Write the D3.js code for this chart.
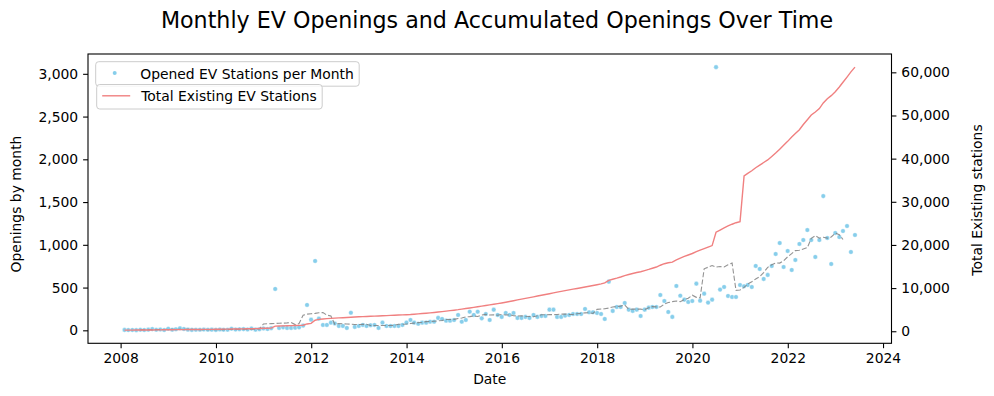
<!DOCTYPE html>
<html>
<head>
<meta charset="utf-8">
<script src="https://cdn.jsdelivr.net/npm/d3@7"></script>
<style>
  body { margin: 0; background: #fff; }
  svg { display: block; font-family: "DejaVu Sans", sans-serif; }
</style>
</head>
<body>
<svg></svg>
<script>
// monthly data, first month is Jan 2008 (dates are month ends)
let firstMonth = '2008-01'

// stations opened per month, one row per year
let openings = [
    5, 3, 4, 2, 6, 4, 8, 14, 6, 9, 4, 18,                       // 2008
    7, 12, 24, 16, 8, 5, 6, 7, 9, 6, 8, 5,                      // 2009
    10, 7, 6, 18, 9, 12, 14, 10, 20, 8, 12, 22,                 // 2010
    15, 25, 484, 28, 35, 28, 28, 30, 35, 55, 297, 125,          // 2011
    811, 137, 63, 63, 90, 80, 51, 51, 28, 205, 40, 51,          // 2012
    63, 51, 60, 63, 28, 90, 51, 51, 51, 51, 63, 90,             // 2013
    121, 90, 76, 90, 90, 101, 101, 145, 133, 113, 113, 121,     // 2014
    180, 101, 121, 218, 180, 218, 140, 191, 121, 242, 180, 157, // 2015
    203, 180, 203, 145, 145, 157, 145, 180, 157, 168, 168, 242, // 2016
    242, 157, 157, 172, 180, 191, 191, 191, 250, 211, 211, 203, // 2017
    191, 133, 569, 227, 273, 273, 320, 242, 227, 242, 168, 242, // 2018
    265, 273, 273, 413, 343, 215, 157, 519, 405, 359, 332, 343, // 2019
    546, 347, 429, 324, 359, 3078, 476, 507, 402, 390, 390, 530,// 2020
    515, 530, 507, 753, 718, 601, 648, 753, 893, 1021, 741, 928,// 2021
    706, 823, 1010, 1056, 1173, 1056, 858, 1056, 1570, 1080, 776, 1138, // 2022
    1091, 1161, 1220, 916, 1115                                 // 2023
]

// total existing stations at each month end
let totals = [
    255, 262, 268, 275, 283, 290, 300, 307, 318, 325, 333, 348,
    360, 368, 375, 385, 392, 400, 410, 420, 428, 437, 445, 458,
    470, 482, 495, 510, 522, 535, 550, 565, 585, 610, 640, 680,
    700, 720, 1190, 1220, 1245, 1270, 1300, 1325, 1350, 1390, 1690, 1820,
    2550, 2750, 2850, 2920, 2980, 3040, 3090, 3140, 3190, 3250, 3300, 3350,
    3390, 3430, 3470, 3510, 3550, 3590, 3630, 3670, 3710, 3750, 3790, 3830,
    3880, 3950, 4020, 4100, 4180, 4270, 4360, 4460, 4560, 4660, 4770, 4880,
    5000, 5130, 5260, 5400, 5540, 5680, 5820, 5960, 6100, 6250, 6400, 6560,
    6730, 6900, 7080, 7260, 7440, 7620, 7800, 7980, 8160, 8340, 8520, 8700,
    8880, 9060, 9240, 9410, 9580, 9750, 9920, 10090, 10260, 10430, 10600, 10780,
    10980, 11200, 11800, 12050, 12300, 12580, 12900, 13150, 13380, 13620, 13800, 14050,
    14320, 14600, 14880, 15300, 15650, 15870, 16030, 16550, 16950, 17330, 17670, 18020,
    18450, 18800, 19150, 19500, 19850, 22950, 23450, 23950, 24400, 24800, 25150, 25400,
    36000, 36600, 37200, 37900, 38500, 39100, 39700, 40500, 41300, 42200, 43100, 44000,
    45000, 45800, 46700, 47900, 49000, 50100, 50800, 51600, 52900, 53900, 54600, 55500,
    56600, 57700, 58900, 60100, 61200
]

let yearTicks = [2008, 2010, 2012, 2014, 2016, 2018, 2020, 2022, 2024]
let leftTicks = [0, 500, 1000, 1500, 2000, 2500, 3000]
let rightTicks = [0, 10000, 20000, 30000, 40000, 50000, 60000]

let rollingWindow = 8

let width = 994
let height = 396
let plot = { left: 88, right: 891.5, top: 54, bottom: 343.3 }
let fontSize = 13.9

let svg = d3.select('svg').attr('width', width).attr('height', height)

let start = d3.timeParse('%Y-%m')(firstMonth)
let dates = openings.map((d, i) => d3.timeDay.offset(d3.timeMonth.offset(start, i + 1), -1))

// centred rolling mean like pandas rolling(8, center=True): rows i-4 .. i+3
let before = Math.floor(rollingWindow / 2)
let after = rollingWindow - before - 1
let rolling = openings.map((d, i) => {
    if (i < before || i + after >= openings.length) return null
    return d3.mean(openings.slice(i - before, i + after + 1))
})

// matplotlib style 5% margins
const padDomain = (lo, hi) => {
    let m = (hi - lo) * 0.05
    return [lo - m, hi + m]
}

let xExt = d3.extent(dates)
let xPad = (xExt[1] - xExt[0]) * 0.05
let xScale = d3.scaleTime()
    .domain([new Date(+xExt[0] - xPad), new Date(+xExt[1] + xPad)])
    .range([plot.left, plot.right])

let yLeft = d3.scaleLinear()
    .domain(padDomain(d3.min(openings), d3.max(openings)))
    .range([plot.bottom, plot.top])

let yRight = d3.scaleLinear()
    .domain(padDomain(d3.min(totals), d3.max(totals)))
    .range([plot.bottom, plot.top])

svg.append('clipPath').attr('id', 'clip')
    .append('rect')
    .attr('x', plot.left).attr('y', plot.top)
    .attr('width', plot.right - plot.left).attr('height', plot.bottom - plot.top)

let marks = svg.append('g').attr('clip-path', 'url(#clip)')

// points
marks.selectAll('circle.open')
    .data(openings)
    .enter()
    .append('circle')
    .attr('class', 'open')
    .attr('cx', (d, i) => xScale(dates[i]))
    .attr('cy', d => yLeft(d))
    .attr('r', 2.3)
    .attr('fill', '#87ceeb')
    .attr('stroke', '#fff')
    .attr('stroke-width', 0.4)

// rolling mean
let rollLine = d3.line()
    .defined(d => d !== null)
    .x((d, i) => xScale(dates[i]))
    .y(d => yLeft(d))

marks.append('path')
    .datum(rolling)
    .attr('d', rollLine)
    .attr('fill', 'none')
    .attr('stroke', '#808080')
    .attr('stroke-opacity', 0.85)
    .attr('stroke-width', 1.1)
    .attr('stroke-dasharray', '5.1,2.2')

// total stations
let totalLine = d3.line()
    .x((d, i) => xScale(dates[i]))
    .y(d => yRight(d))

marks.append('path')
    .datum(totals)
    .attr('d', totalLine)
    .attr('fill', 'none')
    .attr('stroke', '#f08080')
    .attr('stroke-width', 1.4)

// frame
svg.append('rect')
    .attr('x', plot.left).attr('y', plot.top)
    .attr('width', plot.right - plot.left).attr('height', plot.bottom - plot.top)
    .attr('fill', 'none')
    .attr('stroke', '#000')
    .attr('stroke-width', 1.1)

// axes
const styleAxis = (g) => {
    g.select('.domain').remove()
    g.selectAll('.tick line').attr('stroke', '#000').attr('stroke-width', 1.1)
    g.selectAll('.tick text')
        .attr('fill', '#000')
        .style('font-family', '"DejaVu Sans", sans-serif')
        .style('font-size', fontSize + 'px')
}

let xAxis = d3.axisBottom(xScale)
    .tickValues(yearTicks.map(y => new Date(y, 0, 1)))
    .tickFormat(d3.timeFormat('%Y'))
    .tickSize(4.9)
    .tickPadding(4.9)

svg.append('g')
    .attr('transform', 'translate(0,' + plot.bottom + ')')
    .call(xAxis)
    .call(styleAxis)

let yAxisLeft = d3.axisLeft(yLeft)
    .tickValues(leftTicks)
    .tickFormat(d3.format(','))
    .tickSize(4.9)
    .tickPadding(4.9)

svg.append('g')
    .attr('transform', 'translate(' + plot.left + ',0)')
    .call(yAxisLeft)
    .call(styleAxis)

let yAxisRight = d3.axisRight(yRight)
    .tickValues(rightTicks)
    .tickFormat(d3.format(','))
    .tickSize(4.9)
    .tickPadding(4.9)

svg.append('g')
    .attr('transform', 'translate(' + plot.right + ',0)')
    .call(yAxisRight)
    .call(styleAxis)

// titles
svg.append('text')
    .attr('x', 497).attr('y', 28)
    .attr('text-anchor', 'middle')
    .style('font-size', '22.2px')
    .text('Monthly EV Openings and Accumulated Openings Over Time')

svg.append('text')
    .attr('x', (plot.left + plot.right) / 2).attr('y', 384)
    .attr('text-anchor', 'middle')
    .style('font-size', fontSize + 'px')
    .text('Date')

svg.append('text')
    .attr('transform', 'translate(21,204) rotate(-90)')
    .attr('text-anchor', 'middle')
    .style('font-size', fontSize + 'px')
    .text('Openings by month')

svg.append('text')
    .attr('transform', 'translate(982,200) rotate(-90)')
    .attr('text-anchor', 'middle')
    .style('font-size', fontSize + 'px')
    .text('Total Existing stations')

// legends
const drawLegend = (x, y, w, label, kind) => {
    let g = svg.append('g').attr('transform', 'translate(' + x + ',' + y + ')')
    g.append('rect')
        .attr('x', 0.5).attr('y', 0.5)
        .attr('width', w).attr('height', 24.5)
        .attr('rx', 3)
        .attr('fill', '#fff').attr('fill-opacity', 0.8)
        .attr('stroke', '#cccccc')
    if (kind === 'dot') {
        g.append('circle')
            .attr('cx', 19.5).attr('cy', 11.8).attr('r', 2)
            .attr('fill', '#87ceeb')
    } else {
        g.append('line')
            .attr('x1', 6).attr('x2', 34).attr('y1', 11.8).attr('y2', 11.8)
            .attr('stroke', '#f08080').attr('stroke-width', 1.4)
    }
    g.append('text')
        .attr('x', 45).attr('y', 17.4)
        .style('font-size', fontSize + 'px')
        .text(label)
}

drawLegend(95.2, 61.2, 263.5, 'Opened EV Stations per Month', 'dot')
drawLegend(96.2, 84, 225.5, 'Total Existing EV Stations', 'line')
</script>
</body>
</html>
